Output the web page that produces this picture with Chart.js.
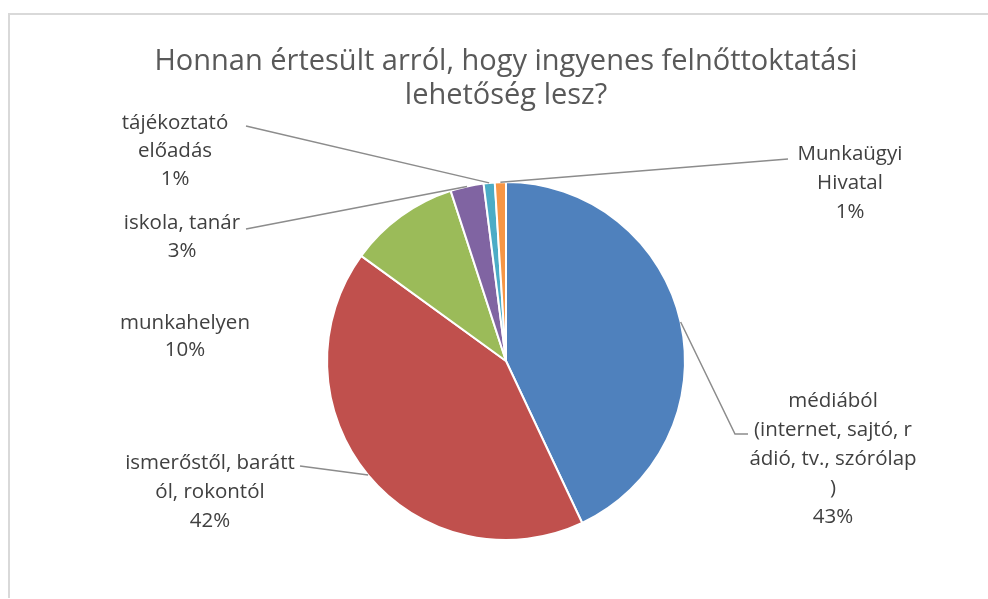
<!DOCTYPE html>
<html>
<head>
<meta charset="utf-8">
<script src="https://cdn.jsdelivr.net/npm/chart.js@4.4.1/dist/chart.umd.min.js"></script>
<style>
  html, body { margin: 0; padding: 0; background: #ffffff; }
  #wrap { width: 988px; height: 599px; position: relative; }
</style>
</head>
<body>
<div id="wrap"><canvas id="c" width="988" height="599"></canvas></div>
<script>
// ---- data ----
const titleLines = ["Honnan értesült arról, hogy ingyenes felnőttoktatási", "lehetőség lesz?"];
const categories = [
  "médiából (internet, sajtó, rádió, tv., szórólap)",
  "ismerőstől, baráttól, rokontól",
  "munkahelyen",
  "iskola, tanár",
  "tájékoztató előadás",
  "Munkaügyi Hivatal"
];
const values = [43, 42, 10, 3, 1, 1];
const labelTexts = [
  ["médiából", "(internet, sajtó, r", "ádió, tv., szórólap", ")"],
  ["ismerőstől, barátt", "ól, rokontól"],
  ["munkahelyen"],
  ["iskola, tanár"],
  ["tájékoztató", "előadás"],
  ["Munkaügyi", "Hivatal"]
];
const colors = ["#4F81BD", "#C0504D", "#9BBB59", "#8064A2", "#4BACC6", "#F79646"];

// ---- label layout (text center x, first line y, line height, leader points from label side) ----
const labelLayout = [
  { x: 833, y: 401, lh: 29, leader: [[748, 434], [735, 434]] },
  { x: 210, y: 463, lh: 29, leader: [[300, 466]] },
  { x: 185, y: 323, lh: 27, leader: null },
  { x: 182, y: 223, lh: 28, leader: [[246, 229]] },
  { x: 175, y: 123, lh: 28, leader: [[246, 126]] },
  { x: 850, y: 154, lh: 29, leader: [[788, 159]] }
];

const framePlugin = {
  id: 'frame',
  beforeDraw(chart) {
    const ctx = chart.ctx;
    ctx.save();
    ctx.strokeStyle = '#d9d9d9';
    ctx.lineWidth = 2;
    ctx.beginPath();
    ctx.moveTo(9, 598);
    ctx.lineTo(9, 14);
    ctx.lineTo(988, 14);
    ctx.stroke();
    ctx.restore();
  }
};

const labelPlugin = {
  id: 'pieLabels',
  afterDatasetsDraw(chart) {
    const ctx = chart.ctx;
    const meta = chart.getDatasetMeta(0);
    const data = chart.data.datasets[0].data;
    const total = data.reduce((a, b) => a + b, 0);
    ctx.save();
    meta.data.forEach((arc, i) => {
      const L = labelLayout[i];
      const p = arc.getProps(['x', 'y', 'startAngle', 'endAngle', 'outerRadius'], true);
      const mid = (p.startAngle + p.endAngle) / 2;
      const ax = p.x + Math.cos(mid) * p.outerRadius;
      const ay = p.y + Math.sin(mid) * p.outerRadius;
      if (L.leader) {
        ctx.strokeStyle = '#8c8c8c';
        ctx.lineWidth = 1.5;
        ctx.beginPath();
        ctx.moveTo(L.leader[0][0], L.leader[0][1]);
        for (let k = 1; k < L.leader.length; k++) ctx.lineTo(L.leader[k][0], L.leader[k][1]);
        ctx.lineTo(ax, ay);
        ctx.stroke();
      }
      const lines = labelTexts[i].concat([Math.round(data[i] / total * 100) + '%']);
      ctx.fillStyle = '#404040';
      ctx.font = '20.5px "Open Sans"';
      ctx.textAlign = 'center';
      ctx.textBaseline = 'middle';
      lines.forEach((t, k) => ctx.fillText(t, L.x, L.y + k * L.lh));
    });
    ctx.restore();
  }
};

new Chart(document.getElementById('c'), {
  type: 'pie',
  data: {
    labels: categories,
    datasets: [{
      data: values,
      backgroundColor: colors,
      borderColor: '#ffffff',
      borderWidth: 2
    }]
  },
  options: {
    responsive: false,
    animation: false,
    devicePixelRatio: 1,
    layout: { padding: { top: 0, bottom: 58, left: 24, right: 0 } },
    plugins: {
      legend: { display: false },
      tooltip: { enabled: false },
      title: {
        display: true,
        text: titleLines,
        color: '#595959',
        font: { family: '"Open Sans"', size: 29, weight: 'normal', lineHeight: 1.2 },
        padding: { top: 44, bottom: 67.5 }
      }
    }
  },
  plugins: [framePlugin, labelPlugin]
});
</script>
</body>
</html>
